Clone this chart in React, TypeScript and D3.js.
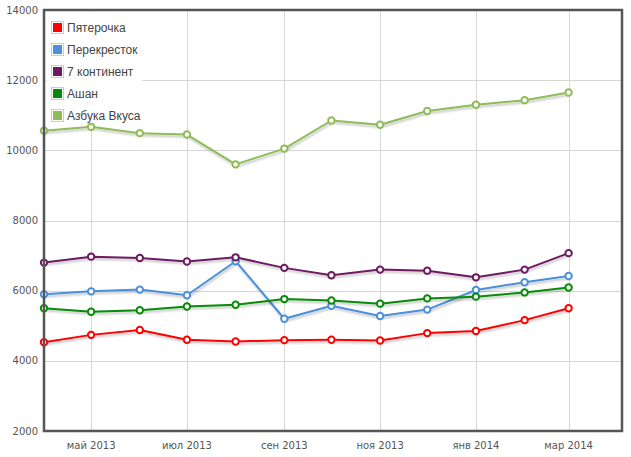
import * as d3 from "d3";
import { useEffect, useRef } from "react";

const width = 631;
const height = 457;

// monthly observations, Apr 2013 .. Mar 2014
const months = [
  "2013-04", "2013-05", "2013-06", "2013-07", "2013-08", "2013-09",
  "2013-10", "2013-11", "2013-12", "2014-01", "2014-02", "2014-03",
];

const seriesNames = ["Пятерочка", "Перекресток", "7 континент", "Ашан", "Азбука Вкуса"];
const seriesColors = ["#ff0000", "#4a90dc", "#6e1a62", "#088a08", "#8fbc58"];

const pyaterochka = [4530, 4740, 4880, 4600, 4550, 4590, 4600, 4580, 4790, 4850, 5160, 5500];
const perekrestok = [5900, 5980, 6030, 5870, 6840, 5200, 5570, 5280, 5460, 6020, 6240, 6420];
const kontinent7 = [6800, 6970, 6930, 6830, 6950, 6650, 6440, 6600, 6570, 6380, 6600, 7070];
const ashan = [5500, 5400, 5440, 5550, 5600, 5760, 5720, 5630, 5780, 5830, 5950, 6090];
const azbuka = [10560, 10670, 10490, 10450, 9600, 10050, 10850, 10730, 11120, 11300, 11430, 11650];

const yTicks = [2000, 4000, 6000, 8000, 10000, 12000, 14000];
const xTickMonths = ["2013-05", "2013-07", "2013-09", "2013-11", "2014-01", "2014-03"];
const monthNames = ["янв", "фев", "мар", "апр", "май", "июн", "июл", "авг", "сен", "окт", "ноя", "дек"];

const parseMonth = d3.timeParse("%Y-%m");

export default function App() {
  const svgRef = useRef(null);

  useEffect(() => {
    if (!svgRef.current) return;
    const svg = d3.select(svgRef.current);
    svg.selectAll("*").remove();

    const left = 44, right = 622, top = 10, bottom = 431;

    const x = d3
      .scaleTime()
      .domain([new Date(2013, 3, 1), new Date(2014, 3, 4)])
      .range([left, right]);
    const y = d3.scaleLinear().domain([2000, 14000]).range([bottom, top]);

    const dates = months.map((m) => parseMonth(m) as Date);
    const tickDates = xTickMonths.map((m) => parseMonth(m) as Date);
    const values = [pyaterochka, perekrestok, kontinent7, ashan, azbuka];

    const defs = svg.append("defs");
    defs
      .append("filter")
      .attr("id", "shadow")
      .attr("x", "-10%")
      .attr("y", "-50%")
      .attr("width", "120%")
      .attr("height", "200%")
      .append("feDropShadow")
      .attr("dx", 1)
      .attr("dy", 2)
      .attr("stdDeviation", 1)
      .attr("flood-color", "#000")
      .attr("flood-opacity", 0.25);

    // grid
    const grid = svg.append("g").attr("stroke", "#d6d6d6").attr("stroke-width", 1);
    grid
      .selectAll("line.h")
      .data(yTicks)
      .join("line")
      .attr("class", "h")
      .attr("x1", left)
      .attr("x2", right)
      .attr("y1", (d) => Math.round(y(d)) + 0.5)
      .attr("y2", (d) => Math.round(y(d)) + 0.5);
    grid
      .selectAll("line.v")
      .data(tickDates)
      .join("line")
      .attr("class", "v")
      .attr("x1", (d) => Math.round(x(d)) + 0.5)
      .attr("x2", (d) => Math.round(x(d)) + 0.5)
      .attr("y1", top)
      .attr("y2", bottom);

    // y labels
    svg
      .append("g")
      .selectAll("text")
      .data(yTicks)
      .join("text")
      .attr("x", 38)
      .attr("y", (d) => y(d))
      .attr("dy", "0.35em")
      .attr("text-anchor", "end")
      .attr("font-family", "DejaVu Sans, sans-serif")
      .attr("font-size", 10)
      .attr("fill", "#555")
      .text((d) => String(d));

    // x labels
    svg
      .append("g")
      .selectAll("text")
      .data(tickDates)
      .join("text")
      .attr("x", (d) => x(d))
      .attr("y", 449)
      .attr("text-anchor", "middle")
      .attr("font-family", "DejaVu Sans, sans-serif")
      .attr("font-size", 10)
      .attr("fill", "#555")
      .text((d) => `${monthNames[d.getMonth()]} ${d.getFullYear()}`);

    // legend background
    svg
      .append("rect")
      .attr("x", 46)
      .attr("y", 12)
      .attr("width", 96)
      .attr("height", 114)
      .attr("fill", "#fff");

    // series
    const line = d3
      .line<number>()
      .x((_, i) => x(dates[i]))
      .y((d) => y(d));

    values.forEach((vals, si) => {
      const g = svg.append("g");
      g.append("path")
        .attr("d", line(vals))
        .attr("fill", "none")
        .attr("stroke", seriesColors[si])
        .attr("stroke-width", 2)
        .attr("stroke-linejoin", "round")
        .attr("filter", "url(#shadow)");
      g.selectAll("circle")
        .data(vals)
        .join("circle")
        .attr("cx", (_, i) => x(dates[i]))
        .attr("cy", (d) => y(d))
        .attr("r", 3.2)
        .attr("fill", "#fff")
        .attr("stroke", seriesColors[si])
        .attr("stroke-width", 2);
    });

    // frame
    svg
      .append("rect")
      .attr("x", left)
      .attr("y", top)
      .attr("width", right - left)
      .attr("height", bottom - top)
      .attr("fill", "none")
      .attr("stroke", "#555")
      .attr("stroke-width", 2.5);

    // legend
    const legend = svg
      .append("g")
      .selectAll("g")
      .data(seriesNames)
      .join("g")
      .attr("transform", (_, i) => `translate(51,${21 + i * 22})`);
    legend
      .append("rect")
      .attr("x", 0.5)
      .attr("y", 0.5)
      .attr("width", 12)
      .attr("height", 12)
      .attr("fill", "#fff")
      .attr("stroke", "#ccc");
    legend
      .append("rect")
      .attr("x", 2)
      .attr("y", 2)
      .attr("width", 9)
      .attr("height", 9)
      .attr("fill", (_, i) => seriesColors[i]);
    legend
      .append("text")
      .attr("x", 16)
      .attr("y", 6.5)
      .attr("dy", "0.35em")
      .attr("font-family", "Liberation Sans, Arial, sans-serif")
      .attr("font-size", 12)
      .attr("fill", "#444")
      .text((d) => d);
  }, []);

  return (
    <svg
      ref={svgRef}
      width={width}
      height={height}
      style={{ position: "absolute", left: 0, top: 0, background: "#fff" }}
    />
  );
}
